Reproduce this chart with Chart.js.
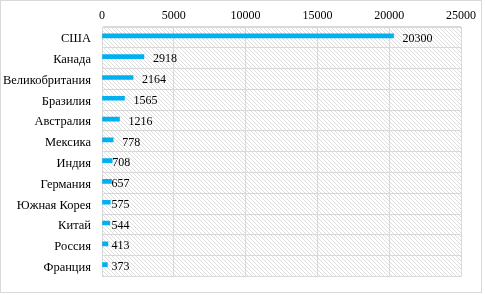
<!DOCTYPE html>
<html><head><meta charset="utf-8">
<script src="https://cdn.jsdelivr.net/npm/chart.js@4.4.1/dist/chart.umd.min.js"></script>
<style>html,body{margin:0;padding:0;background:#fff;overflow:hidden}</style>
</head><body>
<canvas id="c" width="485" height="295"></canvas>
<script>
const categories = ['США','Канада','Великобритания','Бразилия','Австралия','Мексика','Индия','Германия','Южная Корея','Китай','Россия','Франция'];
const values = [20300,2918,2164,1565,1216,778,708,657,575,544,413,373];
const xTicks = [0,5000,10000,15000,20000,25000];

const FAMILY = '"Liberation Serif","Times New Roman",serif';
const FONT = {family: FAMILY, size: 12};
const GRID = '#d9d9d9';

// hatch pattern
const pc = document.createElement('canvas'); pc.width = 4; pc.height = 4;
const pctx = pc.getContext('2d');
pctx.fillStyle = '#ffffff'; pctx.fillRect(0,0,4,4);
pctx.fillStyle = '#dedede';
for (let i = 0; i < 4; i++) pctx.fillRect(i, i, 1, 1);

const bgPlugin = {
  id: 'bg',
  beforeDraw(chart) {
    const {ctx, chartArea: a} = chart;
    ctx.save();
    ctx.fillStyle = '#fff';
    ctx.fillRect(0,0,chart.width,chart.height);
    ctx.fillStyle = ctx.createPattern(pc, 'repeat');
    ctx.fillRect(a.left, a.top, a.right - a.left, a.bottom - a.top);
    ctx.strokeStyle = GRID; ctx.lineWidth = 1;
    ctx.strokeRect(0.5, 0.5, 481, 292);
    ctx.restore();
  },
  beforeDatasetsDraw(chart) { chart.ctx.save(); chart.ctx.translate(0, -1.5); },
  afterDatasetsDraw(chart) {
    const ctx = chart.ctx;
    ctx.restore();
    const meta = chart.getDatasetMeta(0);
    ctx.save();
    ctx.font = '12px ' + FAMILY;
    ctx.fillStyle = '#000';
    ctx.textAlign = 'left';
    ctx.textBaseline = 'middle';
    meta.data.forEach((bar, i) => {
      const v = values[i];
      let x = v >= 750 ? bar.x + 9 : Math.max(bar.x, 111.5);
      ctx.fillText(String(v), x, bar.y + 1);
    });
    ctx.restore();
  }
};

new Chart(document.getElementById('c'), {
  type: 'bar',
  data: {
    labels: categories,
    datasets: [{
      data: values,
      backgroundColor: '#00b0f0',
      borderWidth: 0,
      barThickness: 4
    }]
  },
  options: {
    indexAxis: 'y',
    responsive: false,
    animation: false,
    devicePixelRatio: 1,
    layout: {padding: {left: 0, right: 24, top: 0, bottom: 16}},
    plugins: {legend: {display: false}, tooltip: {enabled: false}},
    scales: {
      x: {
        position: 'top',
        min: 0, max: 25000,
        afterBuildTicks(scale) { scale.ticks = xTicks.map(v => ({value: v})); },
        afterFit(scale) { scale.height = 27; },
        grid: {color: GRID, drawTicks: false},
        border: {color: GRID},
        ticks: {font: FONT, color: '#000', padding: 4, maxRotation: 0, callback: v => String(v)}
      },
      y: {
        afterFit(scale) { scale.width = 102; },
        grid: {color: GRID, drawTicks: false},
        border: {color: GRID},
        ticks: {font: {family: FAMILY, size: 12.5}, color: '#000', padding: 11, labelOffset: 1.5, autoSkip: false}
      }
    }
  },
  plugins: [bgPlugin]
});
</script>
</body></html>
